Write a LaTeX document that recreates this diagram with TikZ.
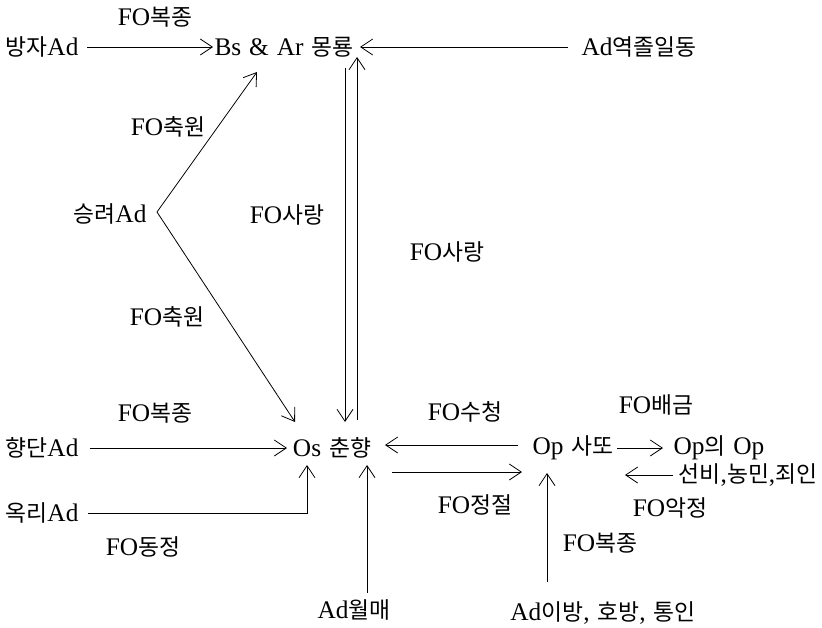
\documentclass[tikz,border=0pt]{standalone}
\usepackage{fontspec}
\setmainfont{Liberation Serif}[WordSpace=1.25]
\newfontfamily\krfont{Noto Sans CJK KR}[Scale=0.9]
\usepackage{tikz}
\usetikzlibrary{arrows.meta, calc}
\newcommand{\kr}[1]{{\krfont #1}}
\tikzset{
  actor/.style={inner sep=0pt, font=\fontsize{19}{21}\selectfont},
  fo/.style={actor},
  link/.style={-{Straight Barb[length=9pt,width=12pt]}, line width=0.6pt},
  bilink/.style={{Straight Barb[length=9pt,width=12pt]}-{Straight Barb[length=9pt,width=12pt]}, line width=0.6pt},
}

\begin{document}
\begin{tikzpicture}[x=0.75pt, y=-0.75pt]
  \useasboundingbox (0,0) rectangle (822,628);
  % actors
  \node[actor] (bangja)    at (42,47)   {\kr{방자}Ad};
  \node[actor] (lovers)    at (284,47)  {Bs \& Ar \kr{몽룡}};
  \node[actor] (yeokjol)   at (639,47)  {Ad\kr{역졸일동}};
  \node[actor] (seungryeo) at (110,214) {\kr{승려}Ad};
  \node[actor] (hyangdan)  at (42,448)  {\kr{향단}Ad};
  \node[actor] (okri)      at (42,513)  {\kr{옥리}Ad};
  \node[actor] (chunhyang) at (332,448) {Os \kr{춘향}};
  \node[actor] (saddo)     at (573,448) {Op \kr{사또}};
  \node[actor] (opop)      at (719,448) {Op\kr{의} Op};
  \node[actor] (seonbi)    at (748,475) {\kr{선비},\kr{농민},\kr{죄인}};
  \node[actor] (wolmae)    at (354,610) {Ad\kr{월매}};
  \node[actor] (ibang)     at (603,613) {Ad\kr{이방}, \kr{호방}, \kr{통인}};
  % functions
  \node[fo] (fBokjongA) at (155,17)  {FO\kr{복종}};
  \node[fo] (fChugwonA) at (168,127) {FO\kr{축원}};
  \node[fo] (fSarangA)  at (287,215) {FO\kr{사랑}};
  \node[fo] (fSarangB)  at (447,252) {FO\kr{사랑}};
  \node[fo] (fChugwonB) at (167,317) {FO\kr{축원}};
  \node[fo] (fBokjongB) at (155,413) {FO\kr{복종}};
  \node[fo] (fDongjeong) at (143,547) {FO\kr{동정}};
  \node[fo] (fSucheong) at (465,412) {FO\kr{수청}};
  \node[fo] (fJeongjeol) at (475,505) {FO\kr{정절}};
  \node[fo] (fBaegeum)  at (656,405) {FO\kr{배금}};
  \node[fo] (fAkjeong)  at (670,508) {FO\kr{악정}};
  \node[fo] (fBokjongC) at (600,543) {FO\kr{복종}};
  % connectors
  \draw[link] ($(bangja)+(45,0)$) -- ($(lovers)+(-71,0)$);
  \draw[link] ($(yeokjol)+(-71,0)$) -- ($(lovers)+(76,0)$);
  \draw[link] ($(lovers)+(61,21)$) -- ($(chunhyang)+(13,-26)$);
  \draw[link] ($(chunhyang)+(25,-28)$) -- ($(lovers)+(73,10)$);
  \draw[bilink] ($(lovers)+(-27,25)$) -- ($(seungryeo)+(47,-2)$) -- ($(chunhyang)+(-37,-26)$);
  \draw[link] ($(hyangdan)+(48,0)$) -- ($(chunhyang)+(-45,0)$);
  \draw[link] ($(okri)+(46,0)$) -| ($(chunhyang)+(-25,17)$);
  \draw[link] ($(wolmae)+(13,-17)$) -- ($(chunhyang)+(35,17)$);
  \draw[link] ($(saddo)+(-55,-3)$) -- ($(chunhyang)+(53,-3)$);
  \draw[link] ($(chunhyang)+(60,24)$) -- ($(saddo)+(-51,24)$);
  \draw[link] ($(ibang)+(-56,-31)$) -- ($(saddo)+(-26,25)$);
  \draw[link] ($(saddo)+(44,0)$) -- ($(opop)+(-56,0)$);
  \draw[link] ($(seonbi)+(-75,0)$) -- ($(saddo)+(52,27)$);
\end{tikzpicture}
\end{document}
